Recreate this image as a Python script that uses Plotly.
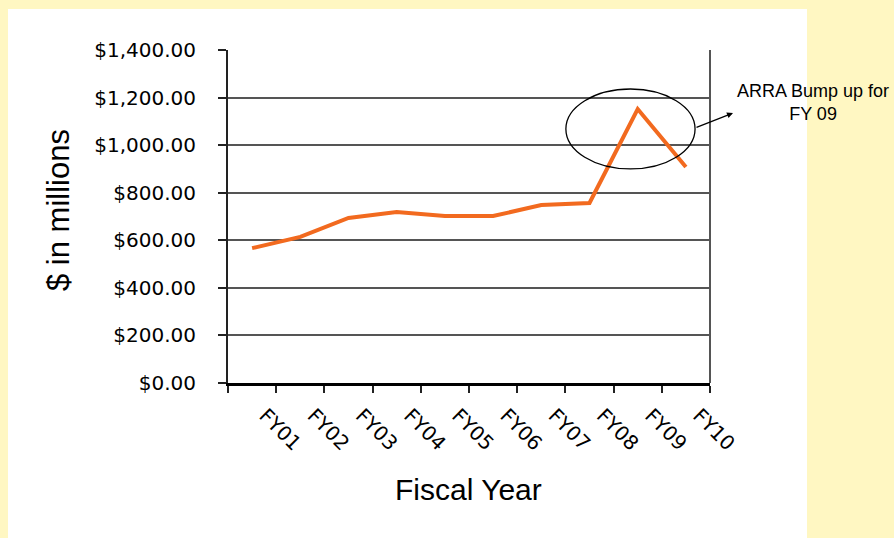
import plotly.graph_objects as go

categories = ["FY01", "FY02", "FY03", "FY04", "FY05", "FY06", "FY07", "FY08", "FY09", "FY10"]
values = [567, 614, 694, 719, 702, 702, 748, 757, 1152, 908]
y_tickvals = [0, 200, 400, 600, 800, 1000, 1200, 1400]
y_ticktext = ["$0.00", "$200.00", "$400.00", "$600.00", "$800.00", "$1,000.00", "$1,200.00", "$1,400.00"]
note_text = "ARRA Bump up for<br>FY 09"

W, H = 894, 538
L, R, T, B = 228, 184, 50, 155
pw, ph = W - L - R, H - T - B

def px_x(p):
    return (p - L) / pw

def px_y(p):
    return (H - B - p) / ph

fig = go.Figure()
fig.add_trace(go.Scatter(
    x=categories, y=values, mode="lines",
    line=dict(color="#F26A1F", width=4),
    hoverinfo="skip", showlegend=False,
))

peak_idx = values.index(max(values))
peak = max(values)

fig.update_layout(
    width=W, height=H, autosize=False,
    margin=dict(l=L, r=R, t=T, b=B),
    paper_bgcolor="#FFF7C2",
    plot_bgcolor="white",
    showlegend=False,
    xaxis=dict(
        type="category", range=[-0.5, 9.5],
        tickson="boundaries", ticks="outside", ticklen=7, tickwidth=2, tickcolor="#222",
        showline=True, linecolor="black", linewidth=3,
        showgrid=False, tickangle=45,
        tickfont=dict(family="DejaVu Sans", size=20, color="black"),
        ticklabelshift=13, ticklabelstandoff=10,
    ),
    yaxis=dict(
        range=[0, 1400], tickvals=y_tickvals, ticktext=y_ticktext,
        ticks="outside", ticklen=8, tickwidth=2, tickcolor="#222",
        showline=True, linecolor="#222", linewidth=2,
        showgrid=True, gridcolor="#555555", gridwidth=2, zeroline=False,
        tickfont=dict(family="DejaVu Sans", size=20, color="black"),
        ticklabelstandoff=18,
    ),
)

# white panel
fig.add_shape(type="rect", xref="paper", yref="paper",
              x0=px_x(8), x1=px_x(807), y0=-0.6, y1=px_y(9),
              fillcolor="white", line=dict(width=0), layer="below")
# right border
fig.add_shape(type="line", xref="paper", yref="paper", x0=1, x1=1, y0=0, y1=1,
              line=dict(color="#555555", width=2))
# ellipse around peak
fig.add_shape(type="circle", xref="x", yref="y",
              x0=peak_idx - 0.15 - 1.34, x1=peak_idx - 0.15 + 1.34,
              y0=peak - 84 - 168, y1=peak - 84 + 168,
              line=dict(color="black", width=1.3))

# arrow
fig.add_annotation(x=px_x(733), y=px_y(113), xref="paper", yref="paper",
                   text="", showarrow=True, ax=-38, ay=15,
                   arrowhead=2, arrowsize=1, arrowwidth=1.2, arrowcolor="black")
# note text
fig.add_annotation(x=px_x(813), y=px_y(102), xref="paper", yref="paper",
                   text=note_text, showarrow=False, align="center",
                   xanchor="center", yanchor="middle",
                   font=dict(family="Liberation Sans", size=18, color="black"))
# axis titles
fig.add_annotation(x=px_x(468), y=px_y(489), xref="paper", yref="paper",
                   text="Fiscal Year", showarrow=False, xanchor="center", yanchor="middle",
                   font=dict(family="Liberation Sans", size=30, color="black"))
fig.add_annotation(x=px_x(58), y=px_y(210), xref="paper", yref="paper",
                   text="$ in millions", showarrow=False, textangle=-90,
                   xanchor="center", yanchor="middle",
                   font=dict(family="Liberation Sans", size=31, color="black"))

fig.write_html("out.html", config={"displayModeBar": False},
               post_script="document.body.style.margin='0';")
